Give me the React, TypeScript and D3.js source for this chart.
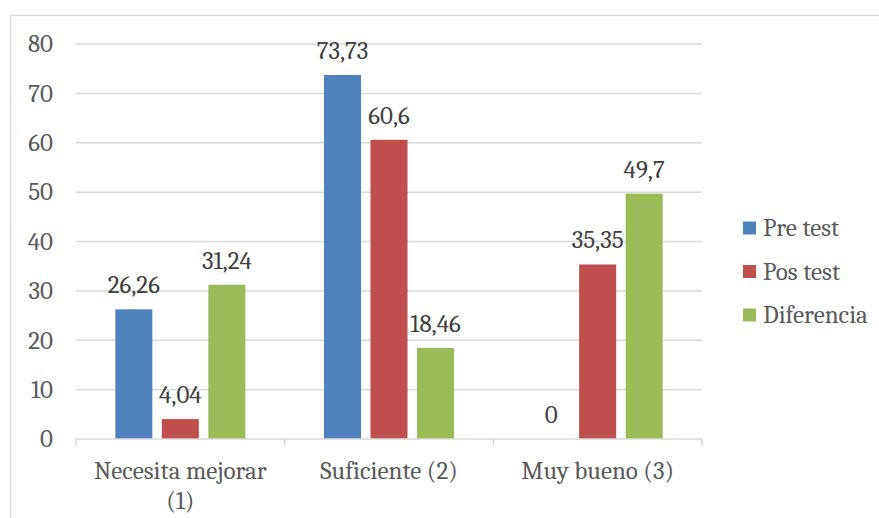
import React from "react";
import * as d3 from "d3";

const categories = ["Necesita mejorar (1)", "Suficiente (2)", "Muy bueno (3)"];
const categoryLines = [["Necesita mejorar", "(1)"], ["Suficiente (2)"], ["Muy bueno (3)"]];
const seriesNames = ["Pre test", "Pos test", "Diferencia"];
const preTest = [26.26, 73.73, 0];
const posTest = [4.04, 60.6, 35.35];
const diferencia = [31.24, 18.46, 49.7];
const labelsPre = ["26,26", "73,73", "0"];
const labelsPos = ["4,04", "60,6", "35,35"];
const labelsDif = ["31,24", "18,46", "49,7"];
const yTicks = [0, 10, 20, 30, 40, 50, 60, 70, 80];
const colors = ["#4F81BD", "#C0504D", "#9BBB59"];

export default function App() {
  const W = 879, H = 518;
  const left = 76, right = 702, top = 44, bottom = 439;
  const font = "Cambria, 'Liberation Serif', 'DejaVu Serif', serif";
  const textColor = "#595959";
  const x0 = d3.scaleBand().domain(categories).range([left, right]).paddingInner(0).paddingOuter(0);
  const x1 = d3.scaleBand().domain(seriesNames).range([0, x0.bandwidth()]).paddingInner(0.204).paddingOuter(0.845);
  const y = d3.scaleLinear().domain([0, 80]).range([bottom, top]);
  const series = [preTest, posTest, diferencia];
  const labels = [labelsPre, labelsPos, labelsDif];
  const fs = 25;

  return (
    <svg width={W} height={H} style={{ position: "absolute", left: 0, top: 0 }}>
      <rect x={0} y={0} width={W} height={H} fill="#fff" />
      <rect x={10.5} y={15.5} width={W + 20} height={H + 20} fill="#fff" stroke="#D9D9D9" strokeWidth={1.5} />
      {yTicks.map((t) => (
        <g key={t}>
          {t !== 0 && <line x1={left} x2={right} y1={y(t)} y2={y(t)} stroke="#D9D9D9" strokeWidth={1.5} />}
          <text x={53} y={y(t)} dy="0.33em" textAnchor="end" fontFamily={font} fontSize={fs} fill={textColor}>{t}</text>
        </g>
      ))}
      {series.map((vals, si) =>
        categories.map((c, ci) => {
          const bx = (x0(c) as number) + (x1(seriesNames[si]) as number);
          const bw = x1.bandwidth();
          return (
            <g key={`${si}-${ci}`}>
              {vals[ci] > 0 && <rect x={bx} y={y(vals[ci])} width={bw} height={y(0) - y(vals[ci])} fill={colors[si]} />}
              <text x={bx + bw / 2} y={y(vals[ci]) - 16} textAnchor="middle" fontFamily={font} fontSize={fs} fill="#404040">{labels[si][ci]}</text>
            </g>
          );
        })
      )}
      <line x1={left} x2={right} y1={bottom} y2={bottom} stroke="#D9D9D9" strokeWidth={1.5} />
      {[0, 1, 2, 3].map((i) => {
        const xx = left + i * x0.bandwidth();
        return <line key={i} x1={xx} x2={xx} y1={bottom} y2={bottom + 7} stroke="#D9D9D9" strokeWidth={1.5} />;
      })}
      {categories.map((c, ci) => (
        <text key={c} x={(x0(c) as number) + x0.bandwidth() / 2} y={479} textAnchor="middle" fontFamily={font} fontSize={fs} fill={textColor}>
          {categoryLines[ci].map((ln, li) => (
            <tspan key={li} x={(x0(c) as number) + x0.bandwidth() / 2} dy={li === 0 ? 0 : 30}>{ln}</tspan>
          ))}
        </text>
      ))}
      {seriesNames.map((s, i) => (
        <g key={s} transform={`translate(743, ${228 + i * 43.5})`}>
          <rect x={0} y={-6.5} width={13} height={13} fill={colors[i]} />
          <text x={20} y={0} dy="0.33em" fontFamily={font} fontSize={fs} fill={textColor}>{s}</text>
        </g>
      ))}
    </svg>
  );
}
